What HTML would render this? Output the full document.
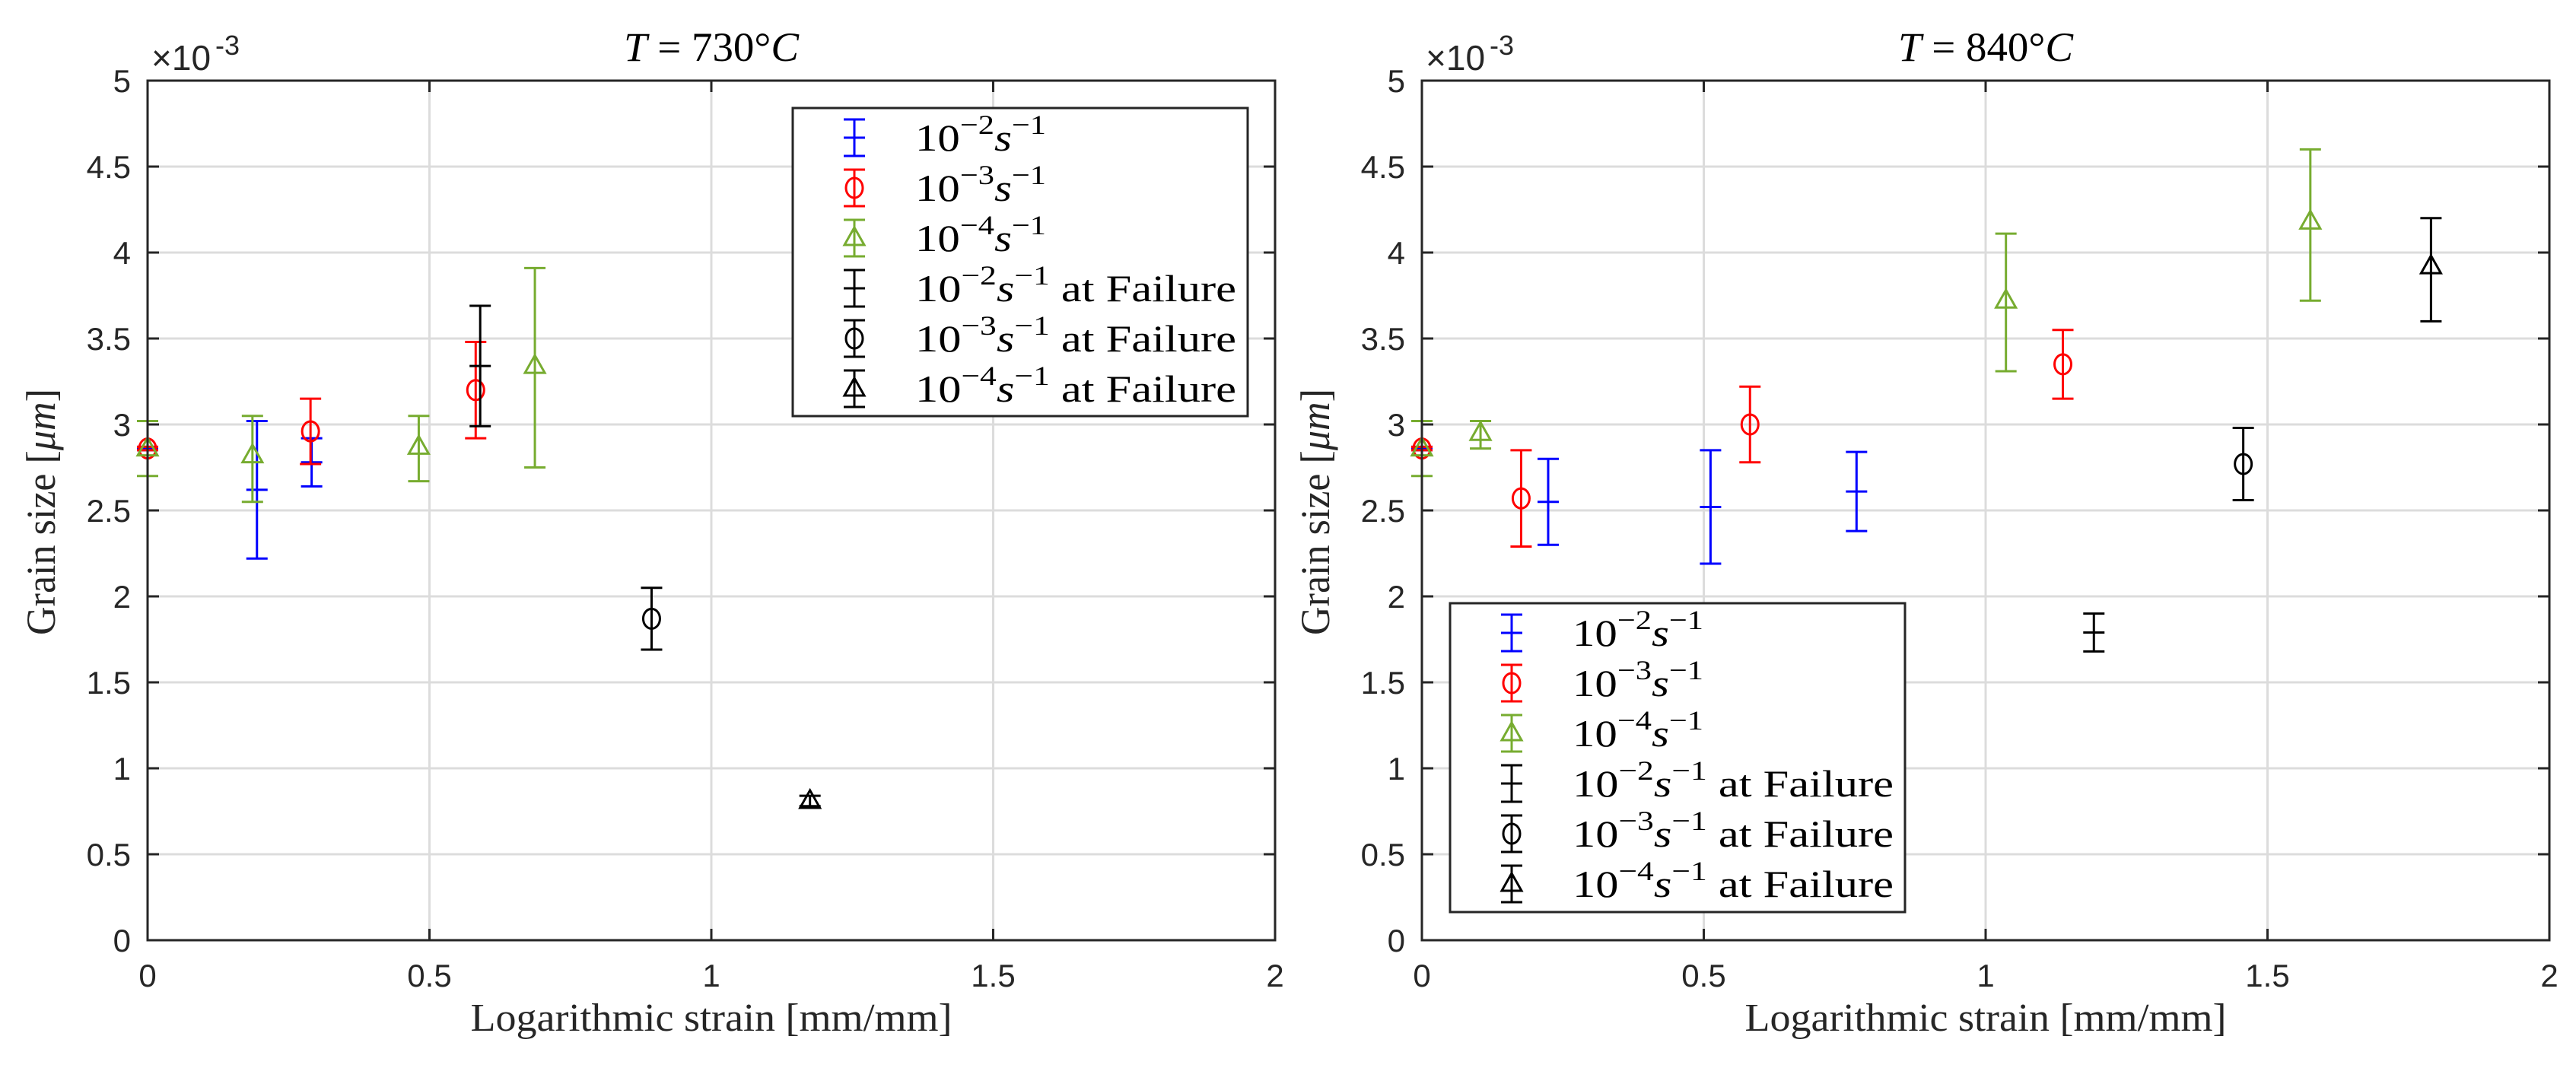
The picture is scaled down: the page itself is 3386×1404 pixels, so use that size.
<!DOCTYPE html>
<html><head><meta charset="utf-8"><style>
html,body{margin:0;padding:0;background:#fff;}
svg{display:block;}
</style></head><body>
<svg id="fig" xmlns="http://www.w3.org/2000/svg" width="3386" height="1404" viewBox="0 0 3386 1404"></svg>
<script>
// ---- data: left panel (T=730C) ----
const L_b_x=[0,0.194,0.291], L_b_y=[2.86,2.62,2.78], L_b_lo=[2.85,2.22,2.64], L_b_hi=[2.87,3.02,2.92];
const L_r_x=[0,0.289,0.582], L_r_y=[2.86,2.96,3.20], L_r_lo=[2.85,2.77,2.92], L_r_hi=[2.87,3.15,3.48];
const L_g_x=[0,0.186,0.481,0.687], L_g_y=[2.86,2.82,2.87,3.34], L_g_lo=[2.70,2.55,2.67,2.75], L_g_hi=[3.02,3.05,3.05,3.91];
const L_k2_x=[0.59], L_k2_y=[3.34], L_k2_lo=[2.99], L_k2_hi=[3.69];
const L_k3_x=[0.894], L_k3_y=[1.87], L_k3_lo=[1.69], L_k3_hi=[2.05];
const L_k4_x=[1.175], L_k4_y=[0.81], L_k4_lo=[0.78], L_k4_hi=[0.84];
// ---- data: right panel (T=840C) ----
const R_b_x=[0,0.224,0.512,0.771], R_b_y=[2.86,2.55,2.52,2.61], R_b_lo=[2.85,2.30,2.19,2.38], R_b_hi=[2.87,2.80,2.85,2.84];
const R_r_x=[0,0.176,0.582,1.137], R_r_y=[2.86,2.57,3.00,3.35], R_r_lo=[2.85,2.29,2.78,3.15], R_r_hi=[2.87,2.85,3.22,3.55];
const R_g_x=[0,0.104,1.036,1.576], R_g_y=[2.86,2.95,3.72,4.18], R_g_lo=[2.70,2.86,3.31,3.72], R_g_hi=[3.02,3.02,4.11,4.60];
const R_k2_x=[1.192], R_k2_y=[1.79], R_k2_lo=[1.68], R_k2_hi=[1.90];
const R_k3_x=[1.457], R_k3_y=[2.77], R_k3_lo=[2.56], R_k3_hi=[2.98];
const R_k4_x=[1.790], R_k4_y=[3.92], R_k4_lo=[3.60], R_k4_hi=[4.20];
// ---- ticks ----
const xTicks=[0,0.5,1,1.5,2];
const xTickLabels=["0","0.5","1","1.5","2"];
const yTicks=[0,0.5,1,1.5,2,2.5,3,3.5,4,4.5,5];
const yTickLabels=["0","0.5","1","1.5","2","2.5","3","3.5","4","4.5","5"];
const legendExps=["-2","-3","-4","-2","-3","-4"];
const legendSuffix=["","",""," at Failure"," at Failure"," at Failure"];

const NS="http://www.w3.org/2000/svg";
const svg=document.getElementById('fig');
function mk(tag,attrs,parent){const e=document.createElementNS(NS,tag);for(const k in attrs)e.setAttribute(k,attrs[k]);(parent||svg).appendChild(e);return e;}
const AX='#262626';
const C={b:'#0000ff',r:'#ff0000',g:'#77ac30',k:'#000000'};

function panel(px0,title,series,leg,id){
  const x0=px0, w=1482, y0=106, h=1130;
  const sx=v=>x0+v/2*w, sy=v=>y0+h-v/5*h;
  const g=mk('g',{});
  
  
  xTicks.forEach(t=>{if(t>0&&t<2){const l=mk('line',{x1:sx(t),x2:sx(t),y1:y0,y2:y0+h,stroke:'#dcdcdc','stroke-width':3},g);}});
  yTicks.forEach(t=>{if(t>0&&t<5){const l=mk('line',{x1:x0,x2:x0+w,y1:sy(t),y2:sy(t),stroke:'#dcdcdc','stroke-width':3},g);}});
  series.forEach(s=>{
    for(let i=0;i<s.x.length;i++){
      const cx=sx(s.x[i]), cy=sy(s.y[i]), t=sy(s.hi[i]), b=sy(s.lo[i]);
      const eg=mk('g',{stroke:s.c,'stroke-width':3,fill:'none'},g);
      
      
      mk('line',{x1:cx,x2:cx,y1:t,y2:b},eg);
      mk('line',{x1:cx-14,x2:cx+14,y1:t,y2:t},eg);
      mk('line',{x1:cx-14,x2:cx+14,y1:b,y2:b},eg);
      if(s.m==='o') mk('ellipse',{cx:cx,cy:cy,rx:11,ry:13},eg);
      else if(s.m==='^') mk('polygon',{points:`${cx},${cy-14} ${cx-13},${cy+9} ${cx+13},${cy+9}`},eg);
      else mk('line',{x1:cx-14,x2:cx+14,y1:cy,y2:cy},eg);
    }
  });
  const box=mk('rect',{x:x0,y:y0,width:w,height:h,fill:'none',stroke:AX,'stroke-width':3},g);
  
  xTicks.forEach((t,i)=>{
    mk('line',{x1:sx(t),x2:sx(t),y1:y0+h,y2:y0+h-15,stroke:AX,'stroke-width':3},g);
    mk('line',{x1:sx(t),x2:sx(t),y1:y0,y2:y0+15,stroke:AX,'stroke-width':3},g);
    const tx=mk('text',{x:sx(t),y:1297,'text-anchor':'middle','font-family':'Liberation Sans, sans-serif','font-size':42,fill:AX},g);
    tx.textContent=xTickLabels[i];
    
  });
  yTicks.forEach((t,i)=>{
    mk('line',{x1:x0,x2:x0+15,y1:sy(t),y2:sy(t),stroke:AX,'stroke-width':3},g);
    mk('line',{x1:x0+w,x2:x0+w-15,y1:sy(t),y2:sy(t),stroke:AX,'stroke-width':3},g);
    const tx=mk('text',{x:x0-22,y:sy(t)+15,'text-anchor':'end','font-family':'Liberation Sans, sans-serif','font-size':42,fill:AX},g);
    tx.textContent=yTickLabels[i];
    
  });
  const ex=mk('text',{x:x0+5,y:92,'font-family':'Liberation Sans, sans-serif','font-size':46,fill:AX},g);
  ex.innerHTML='×10<tspan dx="6" dy="-20" font-size="36">-3</tspan>';
  
  const tt=mk('text',{x:x0+w/2,y:80,'text-anchor':'middle','font-family':'Liberation Serif, serif','font-size':54,fill:'#000',textLength:230,lengthAdjust:'spacingAndGlyphs'},g);
  tt.innerHTML='<tspan font-style="italic">T</tspan> = 730°<tspan font-style="italic">C</tspan>'.replace('730',title);
  
  const xl=mk('text',{x:x0+w/2,y:1355,'text-anchor':'middle','font-family':'Liberation Serif, serif','font-size':52,fill:AX,textLength:633,lengthAdjust:'spacingAndGlyphs'},g);
  xl.textContent='Logarithmic strain [mm/mm]';
  
  const yl=mk('text',{x:0,y:0,'text-anchor':'middle','font-family':'Liberation Serif, serif','font-size':54,fill:AX,textLength:324,lengthAdjust:'spacingAndGlyphs',transform:`translate(${x0-122},${y0+h/2+2}) rotate(-90)`},g);
  yl.innerHTML='Grain size [<tspan font-style="italic">μm</tspan>]';
  
  const lg=mk('g',{},g);
  
  mk('rect',{x:leg.x,y:leg.y,width:leg.w,height:leg.h,fill:'#fff',stroke:AX,'stroke-width':3},lg);
  const cols=[C.b,C.r,C.g,C.k,C.k,C.k], marks=['+','o','^','+','o','^'];
  for(let i=0;i<6;i++){
    const ey=leg.y+39+i*66, mx=leg.x+81;
    const e=mk('g',{},lg);
    
    
    const eg=mk('g',{stroke:cols[i],'stroke-width':3,fill:'none'},e);
    mk('line',{x1:mx,x2:mx,y1:ey-24,y2:ey+24},eg);
    mk('line',{x1:mx-14,x2:mx+14,y1:ey-24,y2:ey-24},eg);
    mk('line',{x1:mx-14,x2:mx+14,y1:ey+24,y2:ey+24},eg);
    if(marks[i]==='o') mk('ellipse',{cx:mx,cy:ey,rx:11,ry:13},eg);
    else if(marks[i]==='^') mk('polygon',{points:`${mx},${ey-14} ${mx-13},${ey+9} ${mx+13},${ey+9}`},eg);
    else mk('line',{x1:mx-14,x2:mx+14,y1:ey,y2:ey},eg);
    const len = legendSuffix[i] ? 422 : 172;
    const tx=mk('text',{x:leg.x+161,y:ey+17,'font-family':'Liberation Serif, serif','font-size':50,fill:'#000',textLength:len,lengthAdjust:'spacingAndGlyphs'},e);
    tx.innerHTML=`10<tspan dy="-22" font-size="36">−${legendExps[i].slice(1)}</tspan><tspan dy="22" font-style="italic">s</tspan><tspan dy="-22" font-size="36">−1</tspan><tspan dy="22">${legendSuffix[i]}</tspan>`;
  }
}

panel(194,'730',[
  {x:L_b_x,y:L_b_y,lo:L_b_lo,hi:L_b_hi,c:C.b,m:'+',name:'rate-1e-2'},
  {x:L_r_x,y:L_r_y,lo:L_r_lo,hi:L_r_hi,c:C.r,m:'o',name:'rate-1e-3'},
  {x:L_g_x,y:L_g_y,lo:L_g_lo,hi:L_g_hi,c:C.g,m:'^',name:'rate-1e-4'},
  {x:L_k2_x,y:L_k2_y,lo:L_k2_lo,hi:L_k2_hi,c:C.k,m:'+',name:'failure-1e-2'},
  {x:L_k3_x,y:L_k3_y,lo:L_k3_lo,hi:L_k3_hi,c:C.k,m:'o',name:'failure-1e-3'},
  {x:L_k4_x,y:L_k4_y,lo:L_k4_lo,hi:L_k4_hi,c:C.k,m:'^',name:'failure-1e-4'}
],{x:1042,y:142,w:598,h:405},'left');

panel(1869,'840',[
  {x:R_b_x,y:R_b_y,lo:R_b_lo,hi:R_b_hi,c:C.b,m:'+',name:'rate-1e-2'},
  {x:R_r_x,y:R_r_y,lo:R_r_lo,hi:R_r_hi,c:C.r,m:'o',name:'rate-1e-3'},
  {x:R_g_x,y:R_g_y,lo:R_g_lo,hi:R_g_hi,c:C.g,m:'^',name:'rate-1e-4'},
  {x:R_k2_x,y:R_k2_y,lo:R_k2_lo,hi:R_k2_hi,c:C.k,m:'+',name:'failure-1e-2'},
  {x:R_k3_x,y:R_k3_y,lo:R_k3_lo,hi:R_k3_hi,c:C.k,m:'o',name:'failure-1e-3'},
  {x:R_k4_x,y:R_k4_y,lo:R_k4_lo,hi:R_k4_hi,c:C.k,m:'^',name:'failure-1e-4'}
],{x:1906,y:793,w:598,h:406},'right');
</script>
</body></html>
